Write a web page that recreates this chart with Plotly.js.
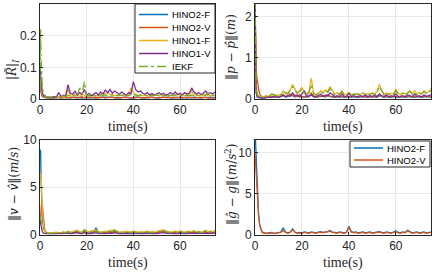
<!DOCTYPE html>
<html>
<head>
<meta charset="utf-8">
<script src="https://cdn.plot.ly/plotly-3.0.1.min.js"></script>
<style>html,body{margin:0;padding:0;background:#fff}#chart{width:432px;height:272px}</style>
</head>
<body>
<div id="chart"></div>
<script>
// time samples (s)
const time = [0,0.25,0.5,0.75,1,1.5,2,2.5,3,
4,5,6,7,8,9,10,11,12,13,
14,15,16,17,18,19,20,21,22,23,
24,25,26,27,28,29,30,31,32,33,
34,35,36,37,38,39,40,41,42,43,
44,45,46,47,48,49,50,51,52,53,
54,55,56,57,58,59,60,61,62,63,
64,65,66,67,68,69,70,71,72,73,
74,75];

const seriesNames = ["HINO2-F","HINO2-V","HINO1-F","HINO1-V","IEKF"];
const xTicks = [0,20,40,60];

// Panel 1: |R~|_I
const R_HINO2F = [0.05,0.03,0.015,0.01,0.008,0.006,0.005,0.004,0.004,
0.003,0.004,0.003,0.005,0.004,0.003,0.006,0.004,0.005,0.003,
0.004,0.006,0.005,0.004,0.003,0.005,0.004,0.006,0.005,0.004,
0.003,0.005,0.004,0.006,0.005,0.004,0.005,0.006,0.004,0.005,
0.003,0.004,0.005,0.006,0.004,0.003,0.005,0.004,0.006,0.005,
0.004,0.003,0.005,0.004,0.006,0.005,0.004,0.003,0.005,0.004,
0.005,0.006,0.004,0.003,0.005,0.004,0.006,0.005,0.004,0.003,
0.005,0.004,0.006,0.005,0.004,0.003,0.005,0.004,0.005,0.006,
0.004,0.005];
const R_HINO2V = [0.06,0.035,0.02,0.012,0.009,0.007,0.006,0.005,0.004,
0.004,0.003,0.005,0.004,0.006,0.004,0.003,0.005,0.004,0.006,
0.005,0.004,0.003,0.005,0.007,0.004,0.005,0.003,0.004,0.006,
0.005,0.004,0.006,0.005,0.003,0.004,0.006,0.005,0.004,0.003,
0.005,0.004,0.006,0.004,0.005,0.003,0.004,0.006,0.005,0.004,
0.003,0.005,0.004,0.006,0.005,0.004,0.003,0.005,0.004,0.006,
0.004,0.005,0.003,0.006,0.004,0.005,0.004,0.003,0.005,0.006,
0.004,0.005,0.003,0.004,0.006,0.005,0.004,0.005,0.003,0.004,
0.005,0.004];
const R_HINO1F = [0.09,0.05,0.03,0.02,0.014,0.01,0.008,0.006,0.005,
0.005,0.006,0.004,0.007,0.006,0.008,0.005,0.007,0.03,0.01,
0.008,0.012,0.01,0.009,0.015,0.011,0.008,0.01,0.012,0.009,
0.01,0.012,0.011,0.018,0.015,0.02,0.014,0.012,0.011,0.013,
0.01,0.012,0.015,0.011,0.012,0.035,0.02,0.014,0.012,0.011,
0.01,0.012,0.011,0.009,0.013,0.012,0.01,0.011,0.014,0.012,
0.011,0.013,0.01,0.012,0.011,0.015,0.012,0.01,0.011,0.013,
0.012,0.025,0.014,0.011,0.012,0.01,0.011,0.013,0.012,0.011,
0.012,0.01];
const R_HINO1V = [0.1,0.07,0.04,0.025,0.018,0.012,0.009,0.007,0.006,
0.006,0.005,0.007,0.006,0.02,0.008,0.012,0.01,0.045,0.018,
0.015,0.025,0.012,0.02,0.014,0.03,0.012,0.018,0.01,0.015,
0.02,0.012,0.022,0.016,0.028,0.02,0.03,0.018,0.025,0.02,
0.015,0.022,0.018,0.012,0.02,0.016,0.055,0.03,0.022,0.025,
0.018,0.015,0.02,0.013,0.017,0.012,0.016,0.02,0.014,0.018,
0.012,0.016,0.02,0.015,0.022,0.014,0.018,0.013,0.02,0.016,
0.018,0.035,0.022,0.016,0.02,0.014,0.018,0.025,0.015,0.02,
0.016,0.022];
const R_IEKF = [0.03,0.22,0.12,0.04,0.035,0.02,0.012,0.008,0.006,
0.005,0.006,0.008,0.006,0.007,0.009,0.01,0.008,0.012,0.01,
0.009,0.015,0.012,0.035,0.015,0.055,0.01,0.012,0.009,0.011,
0.01,0.012,0.014,0.011,0.013,0.01,0.012,0.014,0.011,0.01,
0.012,0.011,0.013,0.01,0.012,0.011,0.014,0.012,0.01,0.013,
0.011,0.012,0.01,0.013,0.011,0.012,0.014,0.01,0.012,0.011,
0.013,0.01,0.012,0.011,0.014,0.012,0.01,0.013,0.011,0.012,
0.01,0.012,0.011,0.013,0.01,0.012,0.014,0.011,0.02,0.012,
0.011,0.013];

// Panel 2: ||p - p^||
const P_HINO2F = [2.5,0.4,0.15,0.08,0.05,0.04,0.03,0.03,0.03,
0.03,0.04,0.05,0.04,0.06,0.05,0.04,0.06,0.08,0.05,
0.06,0.1,0.07,0.05,0.06,0.08,0.05,0.04,0.06,0.05,
0.1,0.06,0.04,0.05,0.06,0.07,0.05,0.08,0.06,0.05,
0.04,0.05,0.06,0.05,0.04,0.06,0.05,0.04,0.06,0.05,
0.04,0.05,0.06,0.05,0.04,0.05,0.06,0.05,0.04,0.08,
0.05,0.04,0.06,0.05,0.04,0.06,0.05,0.04,0.06,0.05,
0.04,0.05,0.06,0.05,0.04,0.06,0.05,0.04,0.05,0.06,
0.05,0.04];
const P_HINO2V = [2.5,0.8,0.75,0.55,0.4,0.25,0.12,0.07,0.05,
0.04,0.05,0.06,0.05,0.07,0.06,0.05,0.07,0.1,0.06,
0.08,0.12,0.08,0.06,0.07,0.1,0.06,0.05,0.07,0.06,
0.15,0.07,0.05,0.06,0.07,0.08,0.06,0.1,0.07,0.06,
0.05,0.06,0.07,0.06,0.05,0.07,0.06,0.05,0.07,0.06,
0.05,0.06,0.07,0.06,0.05,0.06,0.07,0.06,0.05,0.12,
0.06,0.05,0.07,0.06,0.05,0.07,0.06,0.05,0.07,0.06,
0.05,0.06,0.07,0.06,0.05,0.07,0.06,0.05,0.06,0.07,
0.06,0.05];
const P_HINO1F = [2.4,1.0,0.4,0.2,0.12,0.08,0.06,0.05,0.05,
0.05,0.08,0.06,0.1,0.12,0.08,0.1,0.09,0.2,0.12,
0.15,0.22,0.35,0.25,0.12,0.2,0.28,0.15,0.12,0.18,
0.5,0.15,0.1,0.12,0.2,0.15,0.22,0.18,0.3,0.2,
0.12,0.15,0.1,0.2,0.12,0.1,0.14,0.12,0.1,0.13,
0.1,0.12,0.15,0.1,0.13,0.1,0.15,0.12,0.18,0.35,
0.2,0.12,0.15,0.1,0.14,0.12,0.25,0.13,0.1,0.15,
0.12,0.15,0.2,0.13,0.2,0.12,0.15,0.13,0.2,0.15,
0.18,0.25];
const P_HINO1V = [2.3,0.5,0.2,0.1,0.06,0.04,0.03,0.02,0.02,
0.02,0.03,0.05,0.04,0.06,0.05,0.04,0.06,0.1,0.05,
0.08,0.06,0.15,0.08,0.1,0.05,0.12,0.2,0.06,0.08,
0.1,0.05,0.06,0.08,0.12,0.06,0.1,0.08,0.15,0.1,
0.06,0.08,0.05,0.12,0.07,0.05,0.15,0.06,0.08,0.05,
0.06,0.08,0.05,0.1,0.06,0.08,0.05,0.1,0.06,0.12,
0.08,0.06,0.1,0.05,0.08,0.06,0.12,0.06,0.05,0.08,
0.06,0.1,0.08,0.05,0.12,0.06,0.08,0.05,0.1,0.06,
0.08,0.1];
const P_IEKF = [2.4,0.9,0.35,0.18,0.1,0.07,0.05,0.05,0.06,
0.06,0.08,0.07,0.12,0.1,0.08,0.12,0.1,0.18,0.14,
0.12,0.2,0.3,0.22,0.15,0.18,0.25,0.14,0.1,0.15,
0.35,0.12,0.1,0.14,0.18,0.14,0.2,0.16,0.25,0.18,
0.1,0.14,0.12,0.18,0.1,0.12,0.15,0.1,0.12,0.11,
0.12,0.1,0.14,0.12,0.1,0.12,0.14,0.1,0.16,0.3,
0.18,0.1,0.14,0.12,0.12,0.1,0.2,0.12,0.11,0.14,
0.1,0.14,0.18,0.12,0.16,0.1,0.14,0.12,0.18,0.13,
0.15,0.2];

// Panel 3: ||v - v^||
const V_HINO2F = [9.0,8.8,5.5,3.0,1.8,0.8,0.4,0.2,0.12,
0.1,0.12,0.15,0.1,0.2,0.15,0.12,0.18,0.25,0.15,
0.2,0.25,0.3,0.2,0.15,0.35,0.2,0.15,0.2,0.25,
0.7,0.2,0.15,0.2,0.25,0.2,0.3,0.25,0.35,0.2,
0.15,0.2,0.15,0.2,0.25,0.15,0.3,0.2,0.15,0.2,
0.15,0.2,0.25,0.15,0.2,0.15,0.2,0.25,0.3,0.4,
0.25,0.2,0.15,0.2,0.25,0.15,0.35,0.2,0.15,0.2,
0.25,0.2,0.3,0.2,0.25,0.15,0.2,0.3,0.2,0.25,
0.2,0.3];
const V_HINO2V = [1.0,2.0,3.0,3.5,3.2,1.5,0.5,0.25,0.15,
0.12,0.1,0.12,0.15,0.12,0.1,0.15,0.12,0.2,0.12,
0.15,0.2,0.25,0.15,0.12,0.25,0.15,0.12,0.15,0.2,
0.4,0.15,0.12,0.15,0.2,0.15,0.25,0.2,0.3,0.15,
0.12,0.15,0.12,0.15,0.2,0.12,0.25,0.15,0.12,0.15,
0.12,0.15,0.2,0.12,0.15,0.12,0.15,0.2,0.25,0.3,
0.2,0.15,0.12,0.15,0.2,0.12,0.25,0.15,0.12,0.15,
0.2,0.15,0.25,0.15,0.2,0.12,0.15,0.25,0.15,0.2,
0.15,0.25];
const V_HINO1F = [6.5,6.4,6.2,4.0,2.5,1.0,0.4,0.25,0.18,
0.15,0.2,0.18,0.25,0.2,0.15,0.3,0.2,0.35,0.25,
0.3,0.4,0.45,0.3,0.25,0.55,0.35,0.3,0.35,0.4,
0.5,0.3,0.25,0.3,0.35,0.3,0.45,0.4,0.5,0.35,
0.25,0.3,0.25,0.35,0.3,0.25,0.35,0.3,0.25,0.3,
0.25,0.3,0.35,0.25,0.3,0.25,0.3,0.35,0.4,0.5,
0.35,0.3,0.25,0.3,0.35,0.25,0.4,0.3,0.25,0.3,
0.35,0.3,0.4,0.3,0.35,0.25,0.3,0.45,0.3,0.35,
0.3,0.4];
const V_HINO1V = [1.5,1.2,0.8,0.5,0.3,0.15,0.1,0.08,0.06,
0.05,0.06,0.08,0.05,0.1,0.08,0.06,0.1,0.15,0.08,
0.1,0.15,0.2,0.1,0.08,0.2,0.12,0.08,0.1,0.12,
0.2,0.1,0.08,0.1,0.12,0.1,0.15,0.12,0.2,0.1,
0.08,0.1,0.08,0.12,0.1,0.08,0.12,0.1,0.08,0.1,
0.08,0.1,0.12,0.08,0.1,0.08,0.1,0.12,0.15,0.2,
0.12,0.1,0.08,0.1,0.12,0.08,0.15,0.1,0.08,0.1,
0.12,0.1,0.15,0.1,0.12,0.08,0.1,0.15,0.1,0.12,
0.1,0.15];
const V_IEKF = [2.0,1.8,1.5,1.2,0.9,0.5,0.3,0.2,0.15,
0.12,0.18,0.15,0.22,0.18,0.12,0.25,0.18,0.3,0.2,
0.25,0.35,0.4,0.25,0.2,0.5,0.3,0.25,0.3,0.35,
0.45,0.25,0.2,0.25,0.3,0.25,0.4,0.35,0.45,0.3,
0.2,0.25,0.2,0.3,0.25,0.2,0.3,0.25,0.2,0.25,
0.2,0.25,0.3,0.2,0.25,0.2,0.25,0.3,0.35,0.45,
0.3,0.25,0.2,0.25,0.3,0.2,0.35,0.25,0.2,0.25,
0.3,0.25,0.35,0.25,0.3,0.2,0.25,0.4,0.25,0.3,
0.25,0.35];

// Panel 4: ||g^ - g||
const G_HINO2F = [13,11,8,6,4.5,2.5,1.2,0.6,0.3,
0.2,0.15,0.2,0.25,0.15,0.2,0.25,0.3,0.8,0.3,
0.2,0.3,0.7,0.3,0.2,0.25,0.2,0.3,0.25,0.2,
0.3,0.25,0.2,0.3,0.35,0.25,0.3,0.35,0.5,0.3,
0.25,0.2,0.3,0.25,0.2,0.3,1.0,0.35,0.25,0.3,
0.2,0.25,0.3,0.2,0.25,0.3,0.2,0.25,0.3,0.35,
0.25,0.2,0.3,0.25,0.2,0.3,0.45,0.25,0.2,0.3,
0.25,0.5,0.3,0.2,0.25,0.3,0.2,0.25,0.3,0.2,
0.25,0.3];
const G_HINO2V = [10,8.5,7,5.5,4.3,2.4,1.1,0.5,0.25,
0.15,0.12,0.15,0.2,0.12,0.15,0.2,0.25,0.5,0.25,
0.15,0.25,0.6,0.25,0.15,0.2,0.15,0.25,0.2,0.15,
0.25,0.2,0.15,0.25,0.3,0.2,0.25,0.3,0.4,0.25,
0.2,0.15,0.25,0.2,0.15,0.25,0.9,0.3,0.2,0.25,
0.15,0.2,0.25,0.15,0.2,0.25,0.15,0.2,0.25,0.3,
0.2,0.15,0.25,0.2,0.15,0.25,0.35,0.2,0.15,0.25,
0.2,0.45,0.25,0.15,0.2,0.25,0.15,0.2,0.25,0.15,
0.2,0.25];

const yTitles = [
  "|<i>R̃</i>|<sub><i>I</i></sub>",
  "‖<i>p</i> − <i>p̂</i>‖(<i>m</i>)",
  "‖<i>v</i> − <i>v̂</i>‖(<i>m</i>/<i>s</i>)",
  "‖<i>ĝ</i> − <i>g</i>‖(<i>m</i>/<i>s</i><sup>2</sup>)"
];
const xTitle = "time(s)";

const colors = ["#0072BD","#D95319","#EDB120","#7E2F8E","#77AC30"];
const dashes = ["solid","solid","solid","solid","dashdot"];

const traces = [];
function addPanel(ys, xa, ya) {
  ys.forEach((y, i) => {
    traces.push({
      x: time, y: y, xaxis: xa, yaxis: ya, type: "scatter", mode: "lines",
      name: seriesNames[i],
      line: {color: colors[i], width: 1.3, dash: dashes[i]},
      showlegend: false
    });
  });
}
addPanel([R_HINO2F,R_HINO2V,R_HINO1F,R_HINO1V,R_IEKF], "x", "y");
addPanel([P_HINO2F,P_HINO2V,P_HINO1F,P_HINO1V,P_IEKF], "x2", "y2");
addPanel([V_HINO2F,V_HINO2V,V_HINO1F,V_HINO1V,V_IEKF], "x3", "y3");
addPanel([G_HINO2F,G_HINO2V], "x4", "y4");

const W = 432, H = 272;
const px = v => v / W, py = v => 1 - v / H;

const tickFont = {family: "Liberation Sans, Arial, sans-serif", size: 12, color: "#262626"};
const serif = "Liberation Serif, DejaVu Serif, serif";

function xax(dom, anchor) {
  return {domain: dom, anchor: anchor, range: [0, 75], tickvals: xTicks,
    showline: true, mirror: true, linecolor: "#262626", linewidth: 1,
    ticks: "inside", ticklen: 3, tickcolor: "#262626",
    showgrid: true, gridcolor: "#e8e8e8", zeroline: false, tickfont: tickFont};
}
function yax(dom, anchor, range, tv, tt) {
  return {domain: dom, anchor: anchor, range: range, tickvals: tv, ticktext: tt,
    showline: true, mirror: true, linecolor: "#262626", linewidth: 1,
    ticks: "inside", ticklen: 3, tickcolor: "#262626",
    showgrid: true, gridcolor: "#e8e8e8", zeroline: false, tickfont: tickFont};
}

const xL = [px(40), px(215)], xR = [px(255), px(431)];
const yT = [py(99), py(4)], yB = [py(234.5), py(140)];

// annotations: axis titles
const annotations = [];
function ann(text, x, y, opts) {
  annotations.push(Object.assign({text: text, x: px(x), y: py(y), xref: "paper", yref: "paper",
    showarrow: false, xanchor: "center", yanchor: "middle",
    font: {family: serif, size: 14, color: "#262626"}}, opts || {}));
}
const yFont = {family: "DejaVu Serif, Liberation Serif, serif", size: 12, color: "#262626"};
ann(xTitle, 127.5, 127);
ann(xTitle, 343, 127);
ann(xTitle, 127.5, 263);
ann(xTitle, 343, 263);
ann(yTitles[0], 12, 70, {textangle: -90, font: yFont});
ann(yTitles[1], 231, 47, {textangle: -90, font: yFont});
ann(yTitles[2], 14, 184, {textangle: -90, font: yFont});
ann(yTitles[3], 231, 185, {textangle: -90, font: yFont});

// custom legends (compact, like MATLAB)
const shapes = [];
function legendBox(x0, y0, x1, y1, names, firstY, step) {
  shapes.push({type: "rect", xref: "paper", yref: "paper", x0: px(x0), x1: px(x1), y0: py(y1), y1: py(y0),
    fillcolor: "#ffffff", line: {color: "#262626", width: 1}, layer: "above"});
  names.forEach((n, i) => {
    const yy = firstY + step * i;
    shapes.push({type: "line", xref: "paper", yref: "paper", x0: px(x0 + 4), x1: px(x0 + 33), y0: py(yy), y1: py(yy),
      line: {color: colors[i], width: 1.5, dash: dashes[i]}, layer: "above"});
    annotations.push({text: n, x: px(x0 + 35), y: py(yy), xref: "paper", yref: "paper", showarrow: false,
      xanchor: "left", yanchor: "middle",
      font: {family: "Liberation Sans, Arial, sans-serif", size: 9.5, color: "#000"}});
  });
}
legendBox(135, 4, 215, 73, seriesNames, 14.5, 13);
legendBox(350, 141, 430, 167, seriesNames.slice(0, 2), 148, 12);

const layout = {
  width: W, height: H,
  margin: {l: 0, r: 0, t: 0, b: 0},
  paper_bgcolor: "#ffffff", plot_bgcolor: "#ffffff",
  showlegend: false,
  xaxis: xax(xL, "y"),
  yaxis: yax(yT, "x", [0, 0.3], [0,0.1,0.2,0.3], ["0","0.1","0.2","0.3"]),
  xaxis2: xax(xR, "y2"),
  yaxis2: yax(yT, "x2", [0, 2.3], [0,1,2], ["0","1","2"]),
  xaxis3: xax(xL, "y3"),
  yaxis3: yax(yB, "x3", [0, 10], [0,5,10], ["0","5","10"]),
  xaxis4: xax(xR, "y4"),
  yaxis4: yax(yB, "x4", [0, 11.5], [0,5,10], ["0","5","10"]),
  shapes: shapes,
  annotations: annotations
};

Plotly.newPlot("chart", traces, layout, {staticPlot: true, displayModeBar: false});
</script>
</body>
</html>
